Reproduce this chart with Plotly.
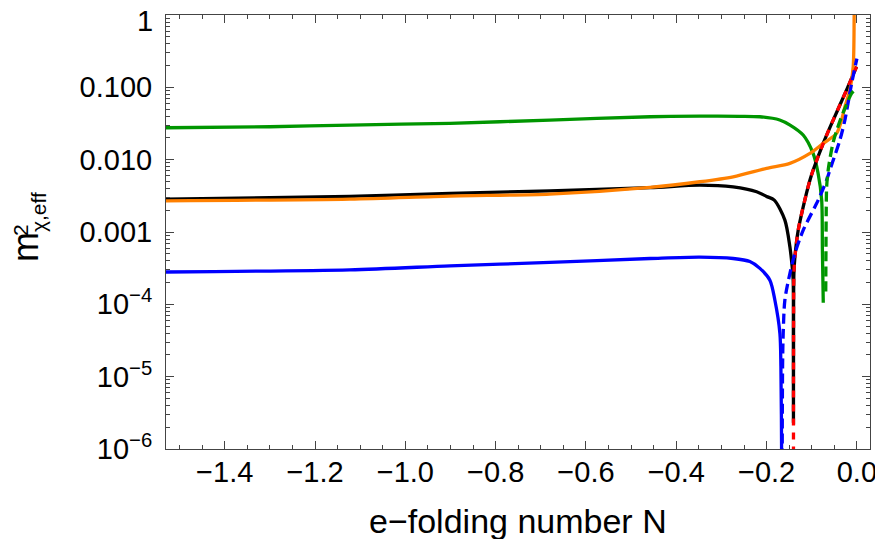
import plotly.graph_objects as go

# ---- data (N = e-folding number, value = m^2_chi,eff) ----
green_N = [-1.530, -1.30, -1.123, -0.901, -0.68, -0.458, -0.348, -0.26, -0.215, -0.171,
           -0.148, -0.119, -0.097, -0.086, -0.078, -0.0764, -0.0745]
green_v = [0.0276, 0.0285, 0.0301, 0.0318, 0.0353, 0.0392, 0.0400, 0.0398, 0.0392, 0.0354,
           0.0301, 0.0219, 0.0122, 0.0065, 0.00276, 0.00056, 0.000105]

blue_N = [-1.530, -1.123, -0.901, -0.68, -0.458, -0.348, -0.274, -0.237, -0.2148, -0.1927,
          -0.1816, -0.1705, -0.1683, -0.1668, -0.1664]
blue_v = [2.8e-4, 3.0e-4, 3.4e-4, 3.8e-4, 4.3e-4, 4.5e-4, 4.3e-4, 3.9e-4, 3.14e-4, 2.16e-4,
          1.14e-4, 3.95e-5, 1.37e-5, 1.0e-6, 1e-8]

black_N = [-1.530, -1.123, -0.901, -0.68, -0.458, -0.348, -0.274, -0.222, -0.200, -0.183,
           -0.1595, -0.1484, -0.1433, -0.1411, -0.1407, -0.1405, -0.1403, -0.1395, -0.1373,
           -0.1300, -0.1189, -0.1041, -0.0968, -0.0746, -0.0525, -0.0228, -0.0007]
black_v = [2.85e-3, 3.1e-3, 3.42e-3, 3.7e-3, 4.1e-3, 4.45e-3, 4.2e-3, 3.6e-3, 3.1e-3, 2.76e-3,
           1.46e-3, 6.24e-4, 3.3e-4, 2.16e-4, 3e-5, 2.3e-6, 3e-5, 2.7e-4, 4.5e-4,
           1.06e-3, 2.23e-3, 5.2e-3, 7.2e-3, 0.0168, 0.0353, 0.092, 0.193]

orange_N = [-1.530, -1.123, -0.901, -0.68, -0.458, -0.348, -0.274, -0.200, -0.1484, -0.1041,
            -0.0746, -0.0450, -0.0339, -0.0266, -0.0155, -0.0082, -0.0060, -0.0050]
orange_v = [2.7e-3, 2.85e-3, 3.14e-3, 3.34e-3, 4.14e-3, 4.95e-3, 5.8e-3, 7.6e-3, 8.9e-3, 0.0122,
            0.0168, 0.0231, 0.0353, 0.054, 0.092, 0.193, 1.03, 3.0]

red_N = [-0.1404, -0.1403, -0.1395, -0.1373, -0.1300, -0.1189, -0.1041, -0.0968, -0.0746,
         -0.0525, -0.0228, -0.0007]
red_v = [1e-8, 3e-5, 2.7e-4, 4.5e-4, 1.06e-3, 2.23e-3, 5.2e-3, 7.2e-3, 0.0168,
         0.0353, 0.092, 0.193]

bluedash_N = [-0.1660, -0.1646, -0.1632, -0.1595, -0.1484, -0.1373, -0.1189, -0.0930, -0.0857,
              -0.0671, -0.0598, -0.0377, -0.0266, -0.0117, 0.0]
bluedash_v = [1e-8, 1.37e-5, 4.0e-5, 1.15e-4, 2.67e-4, 5.06e-4, 1.06e-3, 2.23e-3, 2.76e-3,
              5.2e-3, 7.2e-3, 0.0187, 0.0353, 0.1135, 0.25]

greendash_N = [-0.0690, -0.0685, -0.0680, -0.0670, -0.0636, -0.0525, -0.040, -0.0303, -0.0228,
               -0.0117, -0.0007]
greendash_v = [1.5e-4, 6e-4, 1.8e-3, 4.2e-3, 7.2e-3, 0.0175, 0.031, 0.045, 0.058,
               0.0826, 0.097]

x_tickvals = [-1.4, -1.2, -1.0, -0.8, -0.6, -0.4, -0.2, 0.0]
x_ticktext = ["\u22121.4", "\u22121.2", "\u22121.0", "\u22120.8", "\u22120.6", "\u22120.4",
              "\u22120.2", "0.0"]
x_minor = [round(-1.5 + 0.05 * i, 2) for i in range(31)]
y_tickvals = [1, 0.1, 0.01, 0.001, 1e-4, 1e-5, 1e-6]
y_ticktext = ["1", "0.100", "0.010", "0.001", "10<sup>\u22124</sup>", "10<sup>\u22125</sup>",
              "10<sup>\u22126</sup>"]
y_minor = [m * 10.0 ** e for e in range(-6, 0) for m in range(2, 10)]

GREEN = "rgb(0,150,0)"
BLUE = "rgb(0,0,255)"
BLACK = "rgb(0,0,0)"
ORANGE = "rgb(255,128,0)"
RED = "rgb(255,0,0)"
LW = 3.3

fig = go.Figure()

def add(xs, ys, color, dash="solid", shape="spline"):
    fig.add_trace(go.Scatter(x=xs, y=ys, mode="lines",
                             line=dict(color=color, width=LW, dash=dash, shape=shape,
                                       smoothing=0.8),
                             showlegend=False, hoverinfo="skip"))

add(green_N, green_v, GREEN)
add(blue_N, blue_v, BLUE)
add(black_N, black_v, BLACK)
add(orange_N, orange_v, ORANGE)
add(red_N, red_v, RED, "7px,7px")
add(bluedash_N, bluedash_v, BLUE, "10px,5px")
add(greendash_N, greendash_v, GREEN, "10px,5px")

FONT = "Liberation Sans"
FRAME = "#444444"

# the top label ("1") sits a little below its tick, as in the reference, so it is drawn
# as an annotation; the axis shows the remaining labels
axis_ticktext = [""] + y_ticktext[1:]

# the page body has an 8 px margin, so the margins are shifted to compensate
fig.update_layout(
    width=883, height=539,
    margin=dict(l=158, r=21, t=7, b=98, pad=0, autoexpand=False),
    paper_bgcolor="white", plot_bgcolor="white",
    font=dict(family=FONT, color="black", size=29),
    xaxis=dict(range=[-1.530, 0.029], tickmode="array", tickvals=x_tickvals,
               ticktext=x_ticktext, ticks="inside", ticklen=8, tickwidth=1, tickcolor=FRAME,
               showline=True, linecolor=FRAME, linewidth=1, mirror="allticks",
               showgrid=False, zeroline=False, automargin=False, ticklabelstandoff=-3,
               ticklabeloverflow="allow",
               tickfont=dict(family=FONT, size=29, color="black"),
               minor=dict(tickmode="array", tickvals=x_minor, ticks="inside", ticklen=4,
                          tickcolor=FRAME, showgrid=False)),
    yaxis=dict(type="log", range=[-6, 0], tickmode="array", tickvals=y_tickvals,
               ticktext=axis_ticktext, ticks="inside", ticklen=8, tickwidth=1, tickcolor=FRAME,
               showline=True, linecolor=FRAME, linewidth=1, mirror="allticks",
               showgrid=False, zeroline=False, automargin=False, ticklabelstandoff=7,
               ticklabeloverflow="allow",
               tickfont=dict(family=FONT, size=29, color="black"),
               minor=dict(tickmode="array", tickvals=y_minor, ticks="inside", ticklen=4,
                          tickcolor=FRAME, showgrid=False)),
)

def px2paper_x(px):
    return (px - 166) / 704.0

def px2paper_y(py):
    return (449 - py) / 434.0

fig.add_annotation(text=y_ticktext[0], xref="paper", yref="paper",
                   x=px2paper_x(155), y=px2paper_y(21), xanchor="right", yanchor="middle",
                   showarrow=False, font=dict(family=FONT, size=29, color="black"))
fig.add_annotation(text="e\u2212folding number N", xref="paper", yref="paper",
                   x=px2paper_x(518), y=px2paper_y(521), xanchor="center", yanchor="middle",
                   showarrow=False, font=dict(family=FONT, size=34, color="black"))
fig.add_annotation(text="m", xref="paper", yref="paper", x=px2paper_x(25), y=px2paper_y(247),
                   xanchor="center", yanchor="middle", textangle=-90, showarrow=False,
                   font=dict(family=FONT, size=36, color="black"))
fig.add_annotation(text="2", xref="paper", yref="paper", x=px2paper_x(20), y=px2paper_y(230),
                   xanchor="center", yanchor="middle", textangle=-90, showarrow=False,
                   font=dict(family=FONT, size=21, color="black"))
fig.add_annotation(text="\u03c7,eff", xref="paper", yref="paper", x=px2paper_x(38),
                   y=px2paper_y(212), xanchor="center", yanchor="middle", textangle=-90,
                   showarrow=False, font=dict(family=FONT, size=21, color="black"))

fig.write_html("out.html")
